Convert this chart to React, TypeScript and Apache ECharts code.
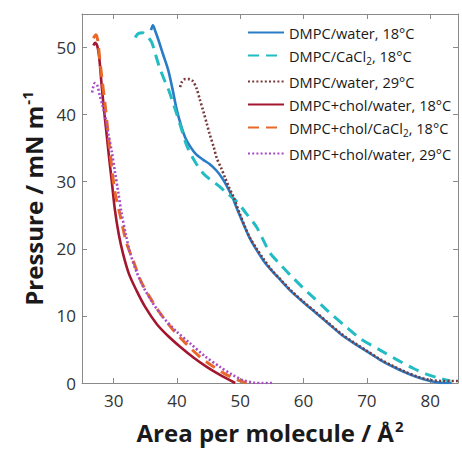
import React, { useEffect, useRef } from "react";
import * as echarts from "echarts";

const xTicks = [30, 40, 50, 60, 70, 80];
const yTicks = [0, 10, 20, 30, 40, 50];

const seriesNames = [
  "DMPC/water, 18°C",
  "DMPC/CaCl2, 18°C",
  "DMPC/water, 29°C",
  "DMPC+chol/water, 18°C",
  "DMPC+chol/CaCl2, 18°C",
  "DMPC+chol/water, 29°C",
];

const dmpcWater18 = [
  [35.9, 52.6], [36.2, 53.3], [36.6, 52.4], [37.05, 51.2], [37.8, 49.0], [38.6, 46.7],
  [39.3, 43.8], [39.95, 40.8], [40.7, 38.2], [41.3, 36.6], [42.05, 35.3], [43.0, 34.1],
  [44.1, 33.3], [45.2, 32.6], [46.3, 31.6], [47.1, 30.6], [47.8, 29.5], [48.8, 27.6],
  [49.6, 25.7], [50.5, 23.7], [51.5, 21.6], [52.6, 19.8], [53.7, 18.2], [55.0, 16.7],
  [56.3, 15.4], [58.0, 13.7], [60.0, 12.0], [62.0, 10.4], [64.0, 8.8], [66.0, 7.2],
  [68.0, 5.9], [70.0, 4.7], [72.0, 3.5], [74.0, 2.5], [76.0, 1.6], [78.0, 0.85],
  [80.0, 0.3], [81.5, 0.05], [83.4, 0.0],
];

const dmpcCaCl18 = [
  [33.4, 51.5], [33.9, 52.1], [34.6, 52.2], [35.2, 51.8], [36.0, 50.8], [36.6, 49.0],
  [37.3, 46.9], [38.0, 45.2], [38.6, 43.9], [39.3, 42.0], [40.0, 40.0], [40.8, 37.6],
  [41.5, 35.5], [42.3, 33.9], [43.1, 32.6], [44.2, 31.2], [45.3, 30.3], [46.3, 29.6],
  [47.8, 28.4], [49.4, 27.1], [51.0, 25.2], [52.6, 23.2], [54.7, 19.4], [56.3, 17.7],
  [58.0, 16.0], [60.0, 14.1], [61.5, 12.8], [64.0, 10.6], [66.8, 8.3], [69.0, 6.6],
  [72.1, 4.9], [74.5, 3.6], [77.3, 2.2], [79.5, 1.3], [81.5, 0.7], [83.2, 0.3],
];

const dmpcWater29 = [
  [40.5, 44.1], [40.8, 44.9], [41.3, 45.3], [41.9, 45.3], [42.5, 45.0], [43.1, 43.9],
  [43.6, 42.3], [44.2, 40.4], [44.7, 38.7], [45.2, 37.0], [45.8, 35.2], [46.3, 33.5],
  [47.0, 32.0], [47.6, 30.6], [48.3, 29.0], [48.9, 27.8], [49.9, 25.3], [50.7, 23.4],
  [51.5, 21.7], [52.6, 20.0], [53.6, 18.6], [55.0, 16.8], [56.3, 15.5], [58.0, 13.8],
  [60.0, 12.1], [62.0, 10.5], [64.0, 8.9], [66.0, 7.3], [68.0, 6.0], [70.0, 4.8],
  [72.0, 3.6], [74.0, 2.6], [76.0, 1.7], [78.0, 0.95], [80.0, 0.45], [82.0, 0.3],
  [84.4, 0.3],
];

const cholWater18 = [
  [26.8, 50.3], [27.05, 50.7], [27.4, 50.3], [27.7, 48.7], [28.1, 44.4], [28.5, 40.5],
  [28.9, 37.0], [29.3, 33.4], [29.7, 30.1], [30.2, 25.8], [30.8, 22.2], [31.5, 19.2],
  [32.4, 16.3], [33.6, 13.8], [35.0, 11.3], [36.8, 8.8], [38.6, 7.0], [40.5, 5.4],
  [42.6, 3.8], [44.7, 2.4], [46.8, 1.2], [49.2, 0.0],
];

const cholCaCl18 = [
  [26.8, 51.4], [27.2, 51.9], [27.5, 51.0], [27.8, 48.3], [28.2, 45.0], [28.6, 41.9],
  [29.1, 37.5], [29.6, 33.0], [30.2, 28.5], [31.0, 25.1], [32.0, 21.0], [33.1, 18.2],
  [34.3, 15.2], [35.7, 12.8], [37.5, 10.2], [39.4, 7.9], [41.5, 5.8], [43.5, 4.0],
  [45.5, 2.6], [47.5, 1.4], [49.5, 0.5], [51.0, 0.0],
];

const cholWater29 = [
  [26.6, 43.3], [26.8, 44.2], [27.05, 44.7], [27.4, 44.4], [27.8, 42.9], [28.2, 41.5],
  [28.6, 40.0], [29.1, 37.4], [29.7, 34.5], [30.2, 31.5], [30.7, 28.6], [31.2, 25.6],
  [31.9, 22.2], [32.6, 19.4], [33.6, 16.6], [34.7, 14.3], [36.2, 11.9], [37.8, 9.8],
  [39.9, 7.7], [42.1, 5.9], [44.4, 4.0], [46.8, 2.4], [48.8, 1.2], [50.5, 0.4],
  [52.1, 0.05], [53.5, 0.0], [55.2, 0.0],
];

const seriesData = [dmpcWater18, dmpcCaCl18, dmpcWater29, cholWater18, cholCaCl18, cholWater29];
const seriesColors = ["#2a7cc6", "#22bcc2", "#7a3a3c", "#a3162f", "#e8682a", "#a74bc3"];
const seriesDash: any[] = ["solid", [11, 7], [2, 2.2], "solid", [11, 7], [2, 2.2]];
const seriesWidth = [2.6, 3, 2.6, 2.6, 3, 2.6];

const FONT = "Open Sans";
const AXIS_COLOR = "#8a8a8a";
const X_MIN = 25;
const X_MAX = 84.4;
const Y_MIN = 0;
const Y_MAX = 55;

export default function App() {
  const ref = useRef<HTMLDivElement>(null);
  useEffect(() => {
    if (!ref.current) return;
    const chart = echarts.init(ref.current, null, { renderer: "svg" });
    const axisLine = { show: true, onZero: false, lineStyle: { color: AXIS_COLOR, width: 1 } };
    const nameRich = {
      b: { fontSize: 24, fontWeight: "bold", fontFamily: FONT, color: "#1a1a1a" },
      sup: { fontSize: 15, fontWeight: "bold", fontFamily: FONT, color: "#1a1a1a", padding: [0, 0, 14, 1] },
    };
    chart.setOption({
      animation: false,
      backgroundColor: "#ffffff",
      grid: { left: 82, top: 14, right: 4, bottom: 69, containLabel: false },
      legend: {
        orient: "vertical",
        left: 247,
        top: 25,
        padding: 0,
        itemWidth: 36,
        itemHeight: 14,
        itemGap: 8,
        data: seriesNames,
        itemStyle: { opacity: 0 },
        textStyle: {
          fontSize: 14.6,
          fontFamily: FONT,
          color: "#1a1a1a",
          rich: {
            sub: { fontSize: 10, fontFamily: FONT, color: "#1a1a1a", padding: [11, 0, 0, 0] },
          },
        },
        formatter: (n: string) => n.replace("CaCl2", "CaCl{sub|2}"),
      },
      xAxis: [
        {
          type: "value",
          min: X_MIN,
          max: X_MAX,
          position: "bottom",
          axisLine,
          axisTick: { show: true, inside: true, length: 5, customValues: xTicks, lineStyle: { color: AXIS_COLOR } },
          axisLabel: { customValues: xTicks, fontSize: 17, fontFamily: FONT, color: "#333333", margin: 9 },
          splitLine: { show: false },
          name: "{b|Area per molecule / Å}{sup|2}",
          nameLocation: "middle",
          nameGap: 35,
          nameTextStyle: { rich: nameRich },
        },
        {
          type: "value",
          min: X_MIN,
          max: X_MAX,
          position: "top",
          axisLine,
          axisTick: { show: true, inside: true, length: 5, customValues: xTicks, lineStyle: { color: AXIS_COLOR } },
          axisLabel: { show: false },
          splitLine: { show: false },
        },
      ],
      yAxis: [
        {
          type: "value",
          min: Y_MIN,
          max: Y_MAX,
          position: "left",
          axisLine,
          axisTick: { show: true, inside: true, length: 5, customValues: yTicks, lineStyle: { color: AXIS_COLOR } },
          axisLabel: { customValues: yTicks, fontSize: 17, fontFamily: FONT, color: "#333333", margin: 6 },
          splitLine: { show: false },
          name: "{b|Pressure / mN m}{sup|-1}",
          nameLocation: "middle",
          nameGap: 30,
          nameTextStyle: { rich: nameRich },
        },
        {
          type: "value",
          min: Y_MIN,
          max: Y_MAX,
          position: "right",
          axisLine,
          axisTick: { show: true, inside: true, length: 5, customValues: yTicks, lineStyle: { color: AXIS_COLOR } },
          axisLabel: { show: false },
          splitLine: { show: false },
        },
      ],
      series: seriesNames.map((name, i) => ({
        name,
        type: "line",
        xAxisIndex: 0,
        yAxisIndex: 0,
        data: seriesData[i],
        symbol: "none",
        showSymbol: false,
        smooth: 0.3,
        color: seriesColors[i],
        lineStyle: { color: seriesColors[i], width: seriesWidth[i], type: seriesDash[i] },
        z: 2 + i,
      })),
    });
    return () => chart.dispose();
  }, []);
  return <div ref={ref} style={{ position: "absolute", left: 0, top: 0, width: 462, height: 452 }} />;
}
